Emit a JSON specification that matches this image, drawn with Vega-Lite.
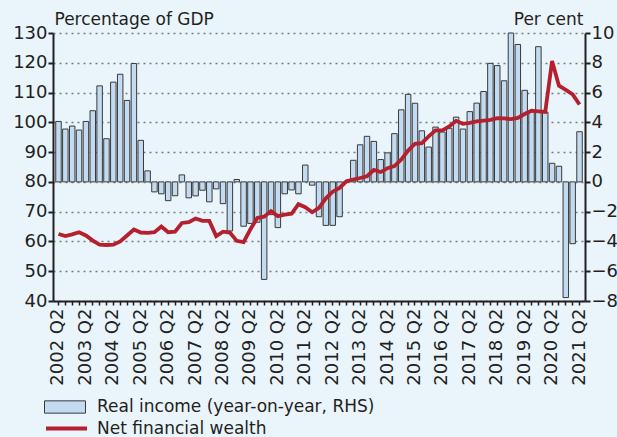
{
  "$schema": "https://vega.github.io/schema/vega-lite/v6.json",
  "width": 532,
  "height": 268,
  "autosize": {"type": "none"},
  "padding": {"left": 53, "top": 33, "right": 32, "bottom": 136},
  "background": "#eaf4fb",
  "config": {
    "view": {"stroke": null},
    "font": "DejaVu Sans",
    "axis": {"labelFont": "DejaVu Sans", "titleFont": "DejaVu Sans", "labelColor": "#231f20", "titleColor": "#231f20", "domainColor": "#231f20", "tickColor": "#231f20", "labelFontSize": 18, "titleFontSize": 17, "titleFontWeight": "normal"},
    "legend": {"labelFont": "DejaVu Sans", "labelColor": "#231f20", "labelLimit": 500}
  },
  "data": {"values": [
    {"q": "2002 Q2", "income": 4.06, "wealth": 62.5},
    {"q": "2002 Q3", "income": 3.55, "wealth": 61.8},
    {"q": "2002 Q4", "income": 3.75, "wealth": 62.4},
    {"q": "2003 Q1", "income": 3.48, "wealth": 63.1},
    {"q": "2003 Q2", "income": 4.06, "wealth": 62.0},
    {"q": "2003 Q3", "income": 4.78, "wealth": 60.3},
    {"q": "2003 Q4", "income": 6.45, "wealth": 58.9},
    {"q": "2004 Q1", "income": 2.9, "wealth": 58.8},
    {"q": "2004 Q2", "income": 6.7, "wealth": 58.9},
    {"q": "2004 Q3", "income": 7.23, "wealth": 60.0},
    {"q": "2004 Q4", "income": 5.47, "wealth": 62.0},
    {"q": "2005 Q1", "income": 7.95, "wealth": 64.0},
    {"q": "2005 Q2", "income": 2.79, "wealth": 63.0},
    {"q": "2005 Q3", "income": 0.74, "wealth": 62.9},
    {"q": "2005 Q4", "income": -0.67, "wealth": 63.1},
    {"q": "2006 Q1", "income": -0.8, "wealth": 65.0},
    {"q": "2006 Q2", "income": -1.26, "wealth": 63.1},
    {"q": "2006 Q3", "income": -0.93, "wealth": 63.3},
    {"q": "2006 Q4", "income": 0.47, "wealth": 66.2},
    {"q": "2007 Q1", "income": -1.07, "wealth": 66.5},
    {"q": "2007 Q2", "income": -0.94, "wealth": 67.7},
    {"q": "2007 Q3", "income": -0.56, "wealth": 66.9},
    {"q": "2007 Q4", "income": -1.34, "wealth": 66.9},
    {"q": "2008 Q1", "income": -0.47, "wealth": 61.8},
    {"q": "2008 Q2", "income": -1.46, "wealth": 63.3},
    {"q": "2008 Q3", "income": -3.3, "wealth": 63.0},
    {"q": "2008 Q4", "income": 0.16, "wealth": 60.2},
    {"q": "2009 Q1", "income": -2.98, "wealth": 59.8},
    {"q": "2009 Q2", "income": -2.79, "wealth": 64.1},
    {"q": "2009 Q3", "income": -2.71, "wealth": 67.9},
    {"q": "2009 Q4", "income": -6.55, "wealth": 68.3},
    {"q": "2010 Q1", "income": -2.2, "wealth": 70.2},
    {"q": "2010 Q2", "income": -3.07, "wealth": 68.5},
    {"q": "2010 Q3", "income": -0.8, "wealth": 69.0},
    {"q": "2010 Q4", "income": -0.54, "wealth": 69.3},
    {"q": "2011 Q1", "income": -0.8, "wealth": 72.5},
    {"q": "2011 Q2", "income": 1.13, "wealth": 71.5},
    {"q": "2011 Q3", "income": -0.22, "wealth": 69.8},
    {"q": "2011 Q4", "income": -2.34, "wealth": 71.3},
    {"q": "2012 Q1", "income": -2.92, "wealth": 74.5},
    {"q": "2012 Q2", "income": -2.92, "wealth": 76.7},
    {"q": "2012 Q3", "income": -2.34, "wealth": 78.0},
    {"q": "2012 Q4", "income": 0.0, "wealth": 80.2},
    {"q": "2013 Q1", "income": 1.45, "wealth": 80.8},
    {"q": "2013 Q2", "income": 2.49, "wealth": 81.3},
    {"q": "2013 Q3", "income": 3.06, "wealth": 81.9},
    {"q": "2013 Q4", "income": 2.72, "wealth": 84.0},
    {"q": "2014 Q1", "income": 1.5, "wealth": 83.3},
    {"q": "2014 Q2", "income": 1.95, "wealth": 84.6},
    {"q": "2014 Q3", "income": 3.24, "wealth": 85.3},
    {"q": "2014 Q4", "income": 4.84, "wealth": 87.5},
    {"q": "2015 Q1", "income": 5.88, "wealth": 90.5},
    {"q": "2015 Q2", "income": 5.28, "wealth": 92.8},
    {"q": "2015 Q3", "income": 3.43, "wealth": 93.0},
    {"q": "2015 Q4", "income": 2.34, "wealth": 95.3},
    {"q": "2016 Q1", "income": 3.68, "wealth": 97.3},
    {"q": "2016 Q2", "income": 3.35, "wealth": 97.3},
    {"q": "2016 Q3", "income": 3.6, "wealth": 98.6},
    {"q": "2016 Q4", "income": 4.35, "wealth": 100.5},
    {"q": "2017 Q1", "income": 3.55, "wealth": 99.5},
    {"q": "2017 Q2", "income": 4.72, "wealth": 99.8},
    {"q": "2017 Q3", "income": 5.29, "wealth": 100.3},
    {"q": "2017 Q4", "income": 6.07, "wealth": 100.6},
    {"q": "2018 Q1", "income": 7.96, "wealth": 100.8},
    {"q": "2018 Q2", "income": 7.81, "wealth": 101.4},
    {"q": "2018 Q3", "income": 6.79, "wealth": 101.3},
    {"q": "2018 Q4", "income": 10.0, "wealth": 101.1},
    {"q": "2019 Q1", "income": 9.23, "wealth": 101.5},
    {"q": "2019 Q2", "income": 6.15, "wealth": 102.8},
    {"q": "2019 Q3", "income": 4.7, "wealth": 103.9},
    {"q": "2019 Q4", "income": 9.08, "wealth": 103.7},
    {"q": "2020 Q1", "income": 4.69, "wealth": 103.5},
    {"q": "2020 Q2", "income": 1.25, "wealth": 120.6},
    {"q": "2020 Q3", "income": 1.05, "wealth": 112.3},
    {"q": "2020 Q4", "income": -7.77, "wealth": 110.9},
    {"q": "2021 Q1", "income": -4.15, "wealth": 109.4},
    {"q": "2021 Q2", "income": 3.37, "wealth": 106.0}
  ]},
  "layer": [
    {
      "mark": {"type": "bar", "stroke": "#3a3a3a", "strokeWidth": 1},
      "encoding": {
        "x": {"field": "q", "type": "ordinal", "sort": null, "title": null,
          "scale": {"paddingInner": 0.2, "paddingOuter": 0.4},
          "axis": {"labelAngle": -90, "labelAlign": "right", "labelBaseline": "middle", "labelPadding": 3, "labelOverlap": false,
            "labelExpr": "indexof(datum.label, 'Q2') > 0 ? datum.label : ''",
            "tickSize": 4, "tickWidth": 1.5, "domainWidth": 2}},
        "y": {"field": "income", "type": "quantitative", "title": "Per cent",
          "scale": {"domain": [-8, 10], "nice": false},
          "axis": {"orient": "right", "values": [-8, -6, -4, -2, 0, 2, 4, 6, 8, 10], "grid": false,
            "domainWidth": 2, "tickWidth": 2, "tickSize": 5, "labelPadding": 1,
            "titleAngle": 0, "titleAlign": "right", "titleBaseline": "alphabetic", "titleX": -2, "titleY": -9}},
        "fill": {"datum": "Real income (year-on-year, RHS)", "type": "nominal",
          "scale": {"range": ["#c2dbf0"]},
          "legend": {"orient": "none", "legendX": -9, "legendY": 353, "title": null, "padding": 0,
            "symbolType": "M-1,-0.3L1,-0.3L1,0.3L-1,0.3Z", "symbolSize": 1681,
            "symbolStrokeColor": "#3a3a3a", "symbolStrokeWidth": 1, "symbolOpacity": 1,
            "labelFontSize": 17, "labelOffset": 11}}
      }
    },
    {
      "mark": {"type": "line", "strokeWidth": 3.8},
      "encoding": {
        "x": {"field": "q", "type": "ordinal", "sort": null},
        "y": {"field": "wealth", "type": "quantitative", "title": "Percentage of GDP",
          "scale": {"domain": [40, 130], "nice": false},
          "axis": {"orient": "left", "values": [40, 50, 60, 70, 80, 90, 100, 110, 120, 130],
            "grid": true, "gridDash": [2, 4], "gridColor": "#7a7a7a", "gridWidth": 1.3,
            "domainWidth": 2, "tickWidth": 2, "tickSize": 5, "labelPadding": 1,
            "titleAngle": 0, "titleAlign": "left", "titleBaseline": "alphabetic", "titleX": 1, "titleY": -9}},
        "stroke": {"datum": "Net financial wealth", "type": "nominal",
          "scale": {"range": ["#b5202e"]},
          "legend": {"orient": "none", "legendX": -9, "legendY": 373, "title": null, "padding": 0,
            "symbolType": "stroke", "symbolSize": 1681, "symbolStrokeWidth": 4,
            "labelFontSize": 17, "labelOffset": 8}}
      }
    }
  ],
  "resolve": {"scale": {"y": "independent"}}
}
